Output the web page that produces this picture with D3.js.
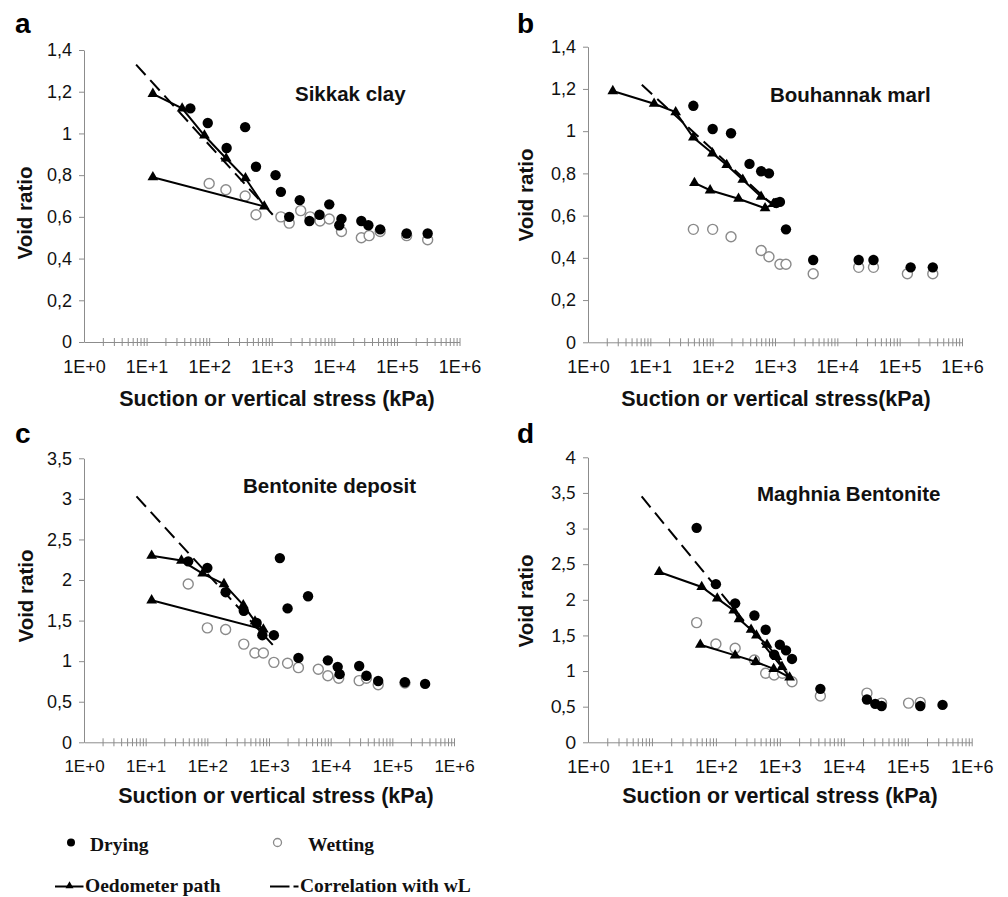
<!DOCTYPE html>
<html>
<head>
<meta charset="utf-8">
<script src="https://cdn.jsdelivr.net/npm/d3@7"></script>
<style>
  body { margin: 0; background: #fff; }
  svg { display: block; }
</style>
</head>
<body>
<svg id="chart" width="1008" height="897"></svg>
<script>
// x tick labels (log scale, decades)
const xTickValues = [1, 1e1, 1e2, 1e3, 1e4, 1e5, 1e6];
const xTickLabels = ["1E+0", "1E+1", "1E+2", "1E+3", "1E+4", "1E+5", "1E+6"];

// y ticks
const yTicksAB = [0, 0.2, 0.4, 0.6, 0.8, 1, 1.2, 1.4];
const yLabelsAB = ["0", "0,2", "0,4", "0,6", "0,8", "1", "1,2", "1,4"];
const yTicksC = [0, 0.5, 1, 1.5, 2, 2.5, 3, 3.5];
const yLabelsC = ["0", "0,5", "1", "1,5", "2", "2,5", "3", "3,5"];
const yTicksD = [0, 0.5, 1, 1.5, 2, 2.5, 3, 3.5, 4];
const yLabelsD = ["0", "0,5", "1", "1,5", "2", "2,5", "3", "3,5", "4"];

// a - Sikkak clay  [suction or stress kPa, void ratio]
const dryA = [[50, 1.12], [95, 1.05], [376, 1.03], [190, 0.93], [560, 0.84], [1150, 0.80], [1400, 0.72],
  [2800, 0.68], [1900, 0.60], [8300, 0.66], [5800, 0.61], [4000, 0.58], [13000, 0.59], [12000, 0.56],
  [27000, 0.58], [35000, 0.56], [54000, 0.54], [143000, 0.52], [310000, 0.52]];
const wetA = [[100, 0.76], [185, 0.73], [376, 0.70], [560, 0.61], [1400, 0.60], [1900, 0.57], [2900, 0.63],
  [4100, 0.60], [5900, 0.58], [8300, 0.59], [13000, 0.53], [27000, 0.50], [36000, 0.51], [54000, 0.53],
  [143000, 0.51], [310000, 0.49]];
const oedoA = [[12.6, 1.19], [37, 1.12], [84, 0.99], [187, 0.88], [380, 0.785], [760, 0.65], [12.6, 0.79]];
const corrA = [[6.8, 1.33], [1040, 0.61]];

// b - Bouhannak marl
const dryB = [[49, 1.12], [100, 1.01], [197, 0.99], [390, 0.845], [600, 0.81], [800, 0.80], [1200, 0.665],
  [1050, 0.66], [1500, 0.535], [4100, 0.39], [22000, 0.39], [38000, 0.39], [150000, 0.355], [340000, 0.355]];
const wetB = [[49, 0.535], [100, 0.535], [197, 0.50], [600, 0.435], [800, 0.405], [1200, 0.37], [1500, 0.37],
  [4100, 0.325], [22000, 0.355], [38000, 0.355], [133000, 0.325], [340000, 0.325]];
const oedoB = [[2.5, 1.19], [11.5, 1.13], [25.5, 1.09], [49, 0.97], [99, 0.895], [168, 0.84], [304, 0.77],
  [598, 0.69], [944, 0.655], [693, 0.635], [260, 0.68], [91, 0.72], [51, 0.755]];
const corrB = [[7.3, 1.22], [1000, 0.64]];

// c - Bentonite deposit
const dryC = [[49, 2.23], [100, 2.15], [198, 1.85], [390, 1.62], [630, 1.47], [780, 1.32], [1200, 1.32],
  [1500, 2.27], [2000, 1.65], [4300, 1.80], [3000, 1.04], [9000, 1.01], [13000, 0.93], [14000, 0.84],
  [29000, 0.94], [38000, 0.82], [59000, 0.755], [160000, 0.74], [340000, 0.72]];
const wetC = [[49, 1.95], [100, 1.41], [198, 1.39], [390, 1.21], [590, 1.10], [810, 1.10], [1200, 0.985],
  [2000, 0.975], [3000, 0.92], [6300, 0.90], [9000, 0.82], [13500, 0.79], [29000, 0.76], [38000, 0.79],
  [59000, 0.71], [160000, 0.73]];
const oedoC = [[12.5, 2.30], [38, 2.24], [84, 2.08], [186, 1.95], [383, 1.69], [593, 1.49], [810, 1.39], [12.5, 1.75]];
const corrC = [[7.1, 3.03], [1150, 1.20]];

// d - Maghnia Bentonite
const dryD = [[50, 3.01], [100, 2.22], [200, 1.95], [400, 1.78], [600, 1.58], [815, 1.23], [1000, 1.37],
  [1250, 1.29], [1550, 1.17], [4300, 0.75], [23000, 0.60], [31000, 0.54], [39000, 0.51], [157000, 0.51],
  [350000, 0.525]];
const wetD = [[50, 1.68], [100, 1.38], [200, 1.32], [400, 1.155], [600, 0.97], [815, 0.945], [1100, 0.97],
  [1550, 0.85], [4300, 0.65], [23000, 0.69], [39000, 0.55], [103000, 0.55], [157000, 0.56]];
const oedoD = [[13, 2.39], [60, 2.18], [105, 2.02], [190, 1.85], [230, 1.73], [355, 1.58], [430, 1.50],
  [630, 1.37], [900, 1.20], [1080, 1.06], [1420, 0.91], [800, 1.03], [420, 1.13], [200, 1.22], [57, 1.37]];
const corrD = [[6.9, 3.45], [1000, 1.09]];

const svg = d3.select("#chart");
const axisColor = "#8c8c8c";
const sans = "'Liberation Sans', Arial, sans-serif";

// panel layout (pixel boxes of each plot)
const panels = [
  { letter: "a", lx: 15, ly: 33, x0: 84, x1: 459.5, yTop: 50, yBot: 342, yMax: 1.4, yTicks: yTicksAB, yLabels: yLabelsAB,
    title: "Sikkak clay", tx: 295, ty: 101, xTitle: "Suction or vertical stress (kPa)", xtx: 277, xty: 406,
    ytx: 31.5, yty: 213, yFont: sans, xFont: 18,
    dry: dryA, wet: wetA, oedo: oedoA, corr: corrA },
  { letter: "b", lx: 517, ly: 33, x0: 588, x1: 962, yTop: 46.7, yBot: 342.3, yMax: 1.4, yTicks: yTicksAB, yLabels: yLabelsAB,
    title: "Bouhannak marl", tx: 770, ty: 101.5, xTitle: "Suction or vertical stress(kPa)", xtx: 776, xty: 406,
    ytx: 533, yty: 195, yFont: sans, xFont: 18,
    dry: dryB, wet: wetB, oedo: oedoB, corr: corrB },
  { letter: "c", lx: 15, ly: 443, x0: 84, x1: 454, yTop: 458.3, yBot: 742.3, yMax: 3.5, yTicks: yTicksC, yLabels: yLabelsC,
    title: "Bentonite deposit", tx: 243, ty: 493, xTitle: "Suction or vertical stress (kPa)", xtx: 276, xty: 803,
    ytx: 33, yty: 596, yFont: sans, xFont: 17,
    dry: dryC, wet: wetC, oedo: oedoC, corr: corrC },
  { letter: "d", lx: 517, ly: 443, x0: 588, x1: 971.7, yTop: 457.3, yBot: 742.3, yMax: 4, yTicks: yTicksD, yLabels: yLabelsD,
    title: "Maghnia Bentonite", tx: 757, ty: 501, xTitle: "Suction or vertical stress (kPa)", xtx: 780, xty: 803,
    ytx: 533, yty: 601, yFont: "Lato, 'Open Sans', sans-serif", xFont: 18,
    dry: dryD, wet: wetD, oedo: oedoD, corr: corrD }
];

// minor log ticks 2..10 in every decade
const minorTicks = [];
for (let k = 0; k < 6; k++) {
  for (let m = 2; m <= 10; m++) minorTicks.push(m * Math.pow(10, k));
}

function drawPanel(p) {
  const g = svg.append("g");
  const x = d3.scaleLog().domain([1, 1e6]).range([p.x0, p.x1]);
  const y = d3.scaleLinear().domain([0, p.yMax]).range([p.yBot, p.yTop]);

  // y axis
  const ya = g.append("g")
    .attr("transform", `translate(${p.x0},0)`)
    .call(d3.axisLeft(y).tickValues(p.yTicks).tickFormat((d, i) => p.yLabels[i])
      .tickSizeOuter(0).tickSizeInner(5).tickPadding(7));
  ya.select(".domain").attr("stroke", axisColor);
  ya.selectAll(".tick line").attr("stroke", axisColor);
  ya.selectAll("text")
    .attr("font-size", 18)
    .attr("font-family", p.yFont)
    .attr("fill", "#111");

  // x axis with crossing minor ticks
  const xa = g.append("g")
    .attr("transform", `translate(0,${p.yBot})`)
    .call(d3.axisBottom(x).tickValues(minorTicks).tickFormat("").tickSizeOuter(0));
  xa.select(".domain").attr("stroke", axisColor);
  xa.selectAll(".tick line").attr("y1", -4).attr("y2", 4).attr("stroke", axisColor);

  const xl = g.append("g")
    .attr("transform", `translate(0,${p.yBot})`)
    .call(d3.axisBottom(x).tickValues(xTickValues).tickFormat((d, i) => xTickLabels[i])
      .tickSize(0).tickPadding(18));
  xl.select(".domain").remove();
  xl.selectAll("text")
    .attr("font-size", p.xFont)
    .attr("font-family", sans)
    .attr("fill", "#111");

  // wetting (open circles)
  g.append("g").selectAll("circle")
    .data(p.wet)
    .join("circle")
    .attr("cx", d => x(d[0]))
    .attr("cy", d => y(d[1]))
    .attr("r", 5)
    .attr("fill", "#fff")
    .attr("stroke", "#8a8a8a")
    .attr("stroke-width", 1.4);

  // drying (filled circles)
  g.append("g").selectAll("circle")
    .data(p.dry)
    .join("circle")
    .attr("cx", d => x(d[0]))
    .attr("cy", d => y(d[1]))
    .attr("r", 5.2)
    .attr("fill", "#000");

  const line = d3.line().x(d => x(d[0])).y(d => y(d[1]));

  // correlation with wL
  g.append("path")
    .datum(p.corr)
    .attr("d", line)
    .attr("fill", "none")
    .attr("stroke", "#000")
    .attr("stroke-width", 2)
    .attr("stroke-dasharray", "14,7");

  // oedometer path
  g.append("path")
    .datum(p.oedo)
    .attr("d", line)
    .attr("fill", "none")
    .attr("stroke", "#000")
    .attr("stroke-width", 2);

  g.append("g").selectAll("path")
    .data(p.oedo)
    .join("path")
    .attr("d", d3.symbol(d3.symbolTriangle, 50))
    .attr("transform", d => `translate(${x(d[0])},${y(d[1])})`)
    .attr("fill", "#000");

  // texts
  svg.append("text")
    .text(p.letter)
    .attr("x", p.lx).attr("y", p.ly)
    .attr("font-family", sans).attr("font-weight", "bold").attr("font-size", 28);

  svg.append("text")
    .text(p.title)
    .attr("x", p.tx).attr("y", p.ty)
    .attr("font-family", sans).attr("font-weight", "bold").attr("font-size", 20.5)
    .attr("fill", "#111");

  svg.append("text")
    .text(p.xTitle)
    .attr("x", p.xtx).attr("y", p.xty)
    .attr("text-anchor", "middle")
    .attr("font-family", sans).attr("font-weight", "bold").attr("font-size", 21.5)
    .attr("fill", "#111");

  svg.append("text")
    .text("Void ratio")
    .attr("transform", `translate(${p.ytx},${p.yty}) rotate(-90)`)
    .attr("text-anchor", "middle")
    .attr("font-family", sans).attr("font-weight", "bold").attr("font-size", 20.5)
    .attr("fill", "#111");
}

panels.forEach(drawPanel);

// legend
const serif = "'Liberation Serif', 'Times New Roman', serif";
const leg = svg.append("g")
  .attr("font-family", serif)
  .attr("font-weight", "bold")
  .attr("font-size", 19.5)
  .attr("fill", "#111");

leg.append("circle").attr("cx", 71).attr("cy", 842.5).attr("r", 4).attr("fill", "#000");
leg.append("text").text("Drying").attr("x", 90).attr("y", 851);

leg.append("circle").attr("cx", 277.5).attr("cy", 842.5).attr("r", 4)
  .attr("fill", "#fff").attr("stroke", "#8a8a8a").attr("stroke-width", 1.3);
leg.append("text").text("Wetting").attr("x", 308).attr("y", 851);

leg.append("line").attr("x1", 55).attr("x2", 83.5).attr("y1", 886.5).attr("y2", 886.5)
  .attr("stroke", "#000").attr("stroke-width", 2);
leg.append("path").attr("d", d3.symbol(d3.symbolTriangle, 28))
  .attr("transform", "translate(69.5,886)").attr("fill", "#000");
leg.append("text").text("Oedometer path").attr("x", 85).attr("y", 892);

leg.append("line").attr("x1", 270).attr("x2", 289.5).attr("y1", 886.5).attr("y2", 886.5)
  .attr("stroke", "#000").attr("stroke-width", 2);
leg.append("line").attr("x1", 293.5).attr("x2", 298.5).attr("y1", 886.5).attr("y2", 886.5)
  .attr("stroke", "#000").attr("stroke-width", 2);
leg.append("text").text("Correlation with wL").attr("x", 300).attr("y", 892);
</script>
</body>
</html>
